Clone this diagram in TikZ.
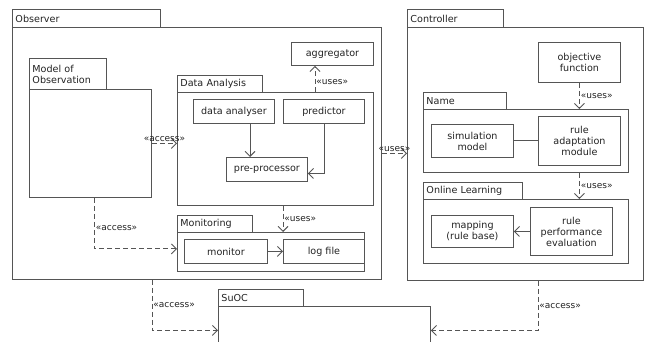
\documentclass[tikz,border=0pt]{standalone}
\usepackage{fontspec}
\setmainfont{DejaVu Sans}
\usetikzlibrary{arrows.meta}
\definecolor{linec}{HTML}{555555}
\definecolor{textc}{HTML}{222222}
\tikzset{
  pkgtab/.style={draw=linec, anchor=north west, align=left, inner xsep=3pt, inner ysep=1pt, text=textc},
  pkgbody/.style={draw=linec, anchor=north west},
  cls/.style={draw=linec, anchor=north west, align=center, inner sep=1pt, text=textc},
  dep/.style={draw=linec, dash pattern=on 5pt off 3pt, -{Straight Barb[length=5pt,width=10pt]}},
  assoc/.style={draw=linec, -{Straight Barb[length=5pt,width=10pt]}},
  lbl/.style={text=textc, inner sep=1pt, font=\fontsize{9}{10}\selectfont}
}
\begin{document}
\begin{tikzpicture}[x=1pt, y=-1pt, line width=0.9pt, font=\fontsize{9.6}{11}\selectfont]
\useasboundingbox (0,0) rectangle (646,342);
\clip (0,0) rectangle (646,342);
% Observer
\node[pkgtab, text width=142pt, minimum height=18pt] (obstab) at (12,9) {Observer};
\node[pkgbody, minimum width=369pt, minimum height=252pt] (obs) at (12,27) {};
\node[pkgtab, text width=71pt, minimum height=31pt] (motab) at (29,58) {Model of\\Observation};
\node[pkgbody, minimum width=122pt, minimum height=108pt] (mo) at (29,89) {};
\node[pkgtab, text width=79pt, minimum height=17pt] (datab) at (177,75) {Data Analysis};
\node[pkgbody, minimum width=196pt, minimum height=113pt] (da) at (177,92) {};
\node[cls, minimum width=82pt, minimum height=23pt] (agg) at (291,42) {aggregator};
\node[cls, minimum width=81pt, minimum height=24pt] (dan) at (193,99) {data analyser};
\node[cls, minimum width=81pt, minimum height=24pt] (pred) at (283,99) {predictor};
\node[cls, minimum width=81pt, minimum height=24pt] (pre) at (226,157) {pre-processor};
\node[pkgtab, text width=69pt, minimum height=17pt] (montab) at (177,215) {Monitoring};
\node[pkgbody, minimum width=187pt, minimum height=39pt] (mon) at (177,232) {};
\node[cls, minimum width=83pt, minimum height=24pt] (mont) at (184,239) {monitor};
\node[cls, minimum width=81pt, minimum height=24pt] (lf) at (283,239) {log file};
% SuOC
\node[pkgtab, text width=79pt, minimum height=17pt] (suoctab) at (218,289) {SuOC};
\node[pkgbody, minimum width=212pt, minimum height=48pt] (suoc) at (218,306) {};
% Controller
\node[pkgtab, text width=90pt, minimum height=18pt] (ctrltab) at (407,9) {Controller};
\node[pkgbody, minimum width=236pt, minimum height=253pt] (ctrl) at (407,27) {};
\node[cls, minimum width=82pt, minimum height=40pt] (obj) at (538,42) {objective\\function};
\node[pkgtab, text width=77pt, minimum height=17pt] (nametab) at (423,92) {Name};
\node[pkgbody, minimum width=205pt, minimum height=63pt] (name) at (423,109) {};
\node[cls, minimum width=82pt, minimum height=33pt] (sim) at (431,124) {simulation\\model};
\node[cls, minimum width=82pt, minimum height=49pt] (rad) at (538,116) {rule\\adaptation\\module};
\node[pkgtab, text width=93pt, minimum height=17pt] (oltab) at (423,182) {Online Learning};
\node[pkgbody, minimum width=205pt, minimum height=64pt] (ol) at (423,199) {};
\node[cls, minimum width=82pt, minimum height=32pt] (map) at (431,215) {mapping\\(rule base)};
\node[cls, minimum width=82pt, minimum height=48pt] (rpe) at (530,207) {rule\\performance\\evaluation};
% connectors
\draw[dep] (mo.east) -- (mo.east -| da.west) node[lbl, above, midway] {«access»};
\draw[dep] ([xshift=4pt]mo.south) |- ([yshift=3pt]mon.west) node[lbl, right, pos=0.3] {«access»};
\draw[dep] ([xshift=24pt]agg.south west |- da.north) -- ([xshift=24pt]agg.south west) node[lbl, right, pos=0.4] {«uses»};
\draw[assoc] ([xshift=24pt]pre.north west |- dan.south) -- ([xshift=24pt]pre.north west);
\draw[assoc] (pred.south) |- ([yshift=-4pt]pre.east);
\draw[dep] (da.south -| lf.west) -- (lf.west |- mon.north) node[lbl, right, midway] {«uses»};
\draw[assoc] (mont.east) -- (lf.west);
\draw[dep] (obs.east) -- (obs.east -| ctrl.west) node[lbl, above, midway] {«uses»};
\draw[dep] (obj.south) -- (obj.south |- name.north) node[lbl, right, midway] {«uses»};
\draw[dep] (name.south -| obj.south) -- (obj.south |- ol.north) node[lbl, right, midway] {«uses»};
\draw[draw=linec] (sim.east) -- (sim.east -| rad.west);
\draw[assoc] (rpe.west |- map.east) -- (map.east);
\draw[dep] ([xshift=140pt]obs.south west) |- (suoc.west) node[lbl, right, pos=0.25] {«access»};
\draw[dep] ([xshift=131pt]ctrl.south west) |- (suoc.east) node[lbl, right, pos=0.25] {«access»};
\end{tikzpicture}
\end{document}
